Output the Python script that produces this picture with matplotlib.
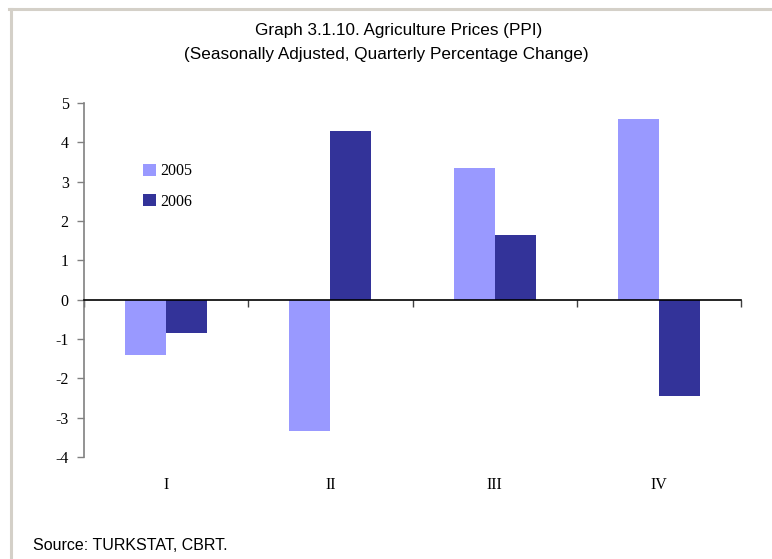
import matplotlib
matplotlib.use("Agg")
import matplotlib.pyplot as plt
from matplotlib import font_manager
from matplotlib.lines import Line2D
import numpy as np

# data
quarters = ["I", "II", "III", "IV"]
y2005 = [-1.41, -3.35, 3.35, 4.60]
y2006 = [-0.86, 4.29, 1.65, -2.45]

names = [f.name for f in font_manager.fontManager.ttflist]
narrow = "Liberation Sans Narrow" if "Liberation Sans Narrow" in names else "Liberation Sans"
serif = "Liberation Serif"
title_size = 14 if narrow == "Liberation Sans Narrow" else 12.3

W, H = 772, 559
fig = plt.figure(figsize=(W / 100, H / 100), dpi=100)

# grey frame at top and left
frame_col = "#D4D0C8"
fig.add_artist(Line2D([9 / W, 1], [1 - 9 / H, 1 - 9 / H], color=frame_col, lw=2.2, transform=fig.transFigure))
fig.add_artist(Line2D([10.5 / W, 10.5 / W], [0, 1 - 9 / H], color=frame_col, lw=2.2, transform=fig.transFigure))

ax = fig.add_axes([84 / W, 1 - 457 / H, (741 - 84) / W, (457 - 103) / H])

x = np.arange(len(quarters))
w = 0.25
ax.bar(x - w / 2, y2005, w, color="#9999FF", label="2005", zorder=2)
ax.bar(x + w / 2, y2006, w, color="#333399", label="2006", zorder=2)

ax.set_xlim(-0.5, 3.5)
ax.set_ylim(-4, 5)
ax.set_yticks(range(-4, 6))
ax.set_yticklabels([str(v) for v in range(-4, 6)], fontfamily=serif, fontsize=11.5)

for s in ["top", "right"]:
    ax.spines[s].set_visible(False)
ax.spines["left"].set_color("#808080")
ax.spines["left"].set_linewidth(1.2)
ax.spines["bottom"].set_position(("data", 0))
ax.spines["bottom"].set_color("black")
ax.spines["bottom"].set_linewidth(1.2)
ax.spines["bottom"].set_zorder(3)
ax.tick_params(axis="y", length=5, width=1, color="#808080", pad=6)

ax.set_xticks(np.arange(-0.5, 4.0, 1.0))
ax.set_xticklabels([])
ax.tick_params(axis="x", length=5, width=1, color="#404040", direction="out")

for i, q in enumerate(quarters):
    ax.text(i, -4.72, q, ha="center", va="center", fontfamily=serif, fontsize=11.5)

ax.legend(loc="upper left", bbox_to_anchor=(0.068, 0.87), frameon=False,
          prop={"family": serif, "size": 11.5}, handlelength=0.8, handleheight=0.8,
          handletextpad=0.3, labelspacing=0.9)

fig.text(399 / W, 1 - 31 / H, "Graph 3.1.10. Agriculture Prices (PPI)", ha="center", va="center",
         fontfamily=narrow, fontsize=title_size)
fig.text(386 / W, 1 - 54 / H, "(Seasonally Adjusted, Quarterly Percentage Change)", ha="center", va="center",
         fontfamily=narrow, fontsize=title_size)
fig.text(33 / W, 1 - 545 / H, "Source: TURKSTAT, CBRT.", ha="left", va="center",
         fontfamily=narrow, fontsize=11.5)

fig.savefig("out.png", dpi=100)
